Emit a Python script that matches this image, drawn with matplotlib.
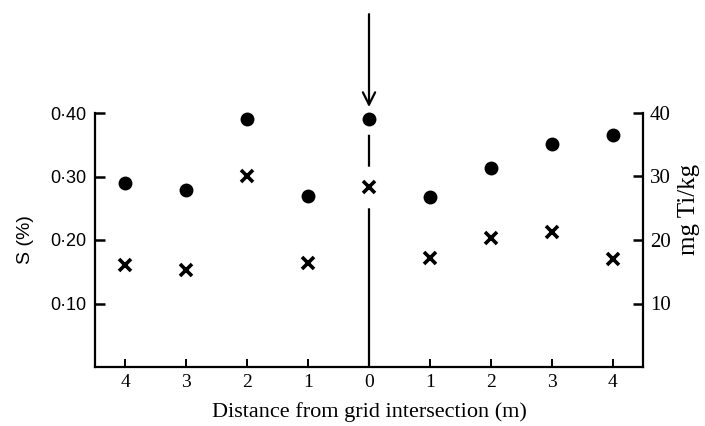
import numpy as np
import matplotlib.pyplot as plt

# distance from the grid intersection, left side then right side
positions = [-4, -3, -2, -1, 0, 1, 2, 3, 4]
tick_labels = ['4', '3', '2', '1', '0', '1', '2', '3', '4']

# S (%) - filled dots, left axis
s_percent = [0.289, 0.279, 0.390, 0.270, 0.390, 0.267, 0.313, 0.351, 0.365]
# mg Ti/kg - crosses, right axis
ti_mg = [16.0, 15.2, 30.0, 16.3, 28.3, 17.1, 20.3, 21.3, 17.0]

serif = 'Liberation Serif'
sans = 'Liberation Sans'

fig = plt.figure(figsize=(7.05, 4.26), dpi=100)
ax = fig.add_axes([95 / 705, 1 - 367 / 426, (643 - 95) / 705, (367 - 113) / 426])
ax2 = ax.twinx()

ax.set_xlim(-4.5, 4.5)
ax.set_ylim(0, 0.40)
ax2.set_ylim(0, 40)

# vertical line at the grid intersection
ax.axvline(0, color='black', lw=1.6, zorder=1)
ax.annotate('', xy=(0, 0.405), xytext=(0, 0.56), xycoords='data',
            arrowprops=dict(arrowstyle='->', lw=1.6, color='black',
                            mutation_scale=22), annotation_clip=False)

# white gaps in the line around the markers at the intersection
centre = positions.index(0)
ax.plot([0], [s_percent[centre]], 'o', color='white', ms=21, zorder=2, clip_on=False)
ax2.plot([0], [ti_mg[centre]], 'o', color='white', ms=29, zorder=2)

ax.plot(positions, s_percent, 'o', color='black', ms=10, mec='none',
        zorder=3, clip_on=False)
ax2.plot(positions, ti_mg, 'x', color='black', ms=8, mew=2.6, zorder=3)

for a in (ax, ax2):
    a.spines['top'].set_visible(False)
    for sp in a.spines.values():
        sp.set_linewidth(1.6)

ax.spines['right'].set_visible(False)
ax2.spines['left'].set_visible(False)
ax2.spines['bottom'].set_visible(False)

ax.set_xticks(positions)
ax.set_xticklabels(tick_labels, fontfamily=serif, fontsize=14)
ax.set_yticks([0.10, 0.20, 0.30, 0.40])
ax.set_yticklabels(['0·10', '0·20', '0·30', '0·40'], fontfamily=sans, fontsize=13)
ax2.set_yticks([10, 20, 30, 40])
ax2.set_yticklabels(['10', '20', '30', '40'], fontfamily=serif, fontsize=15)

ax.tick_params(axis='x', direction='in', length=6, width=1.4, pad=5)
ax.tick_params(axis='y', direction='in', length=7, width=1.8, pad=6)
ax2.tick_params(axis='y', direction='in', length=7, width=1.8, pad=5)

ax.set_xlabel('Distance from grid intersection (m)', fontfamily=serif, fontsize=16, labelpad=8)
ax.set_ylabel('S (%)', fontfamily=sans, fontsize=14, labelpad=12)
ax2.set_ylabel('mg Ti/kg', fontfamily=serif, fontsize=18)
ax2.yaxis.set_label_coords(1.063, 0.62)

fig.savefig('out.png', dpi=100)
